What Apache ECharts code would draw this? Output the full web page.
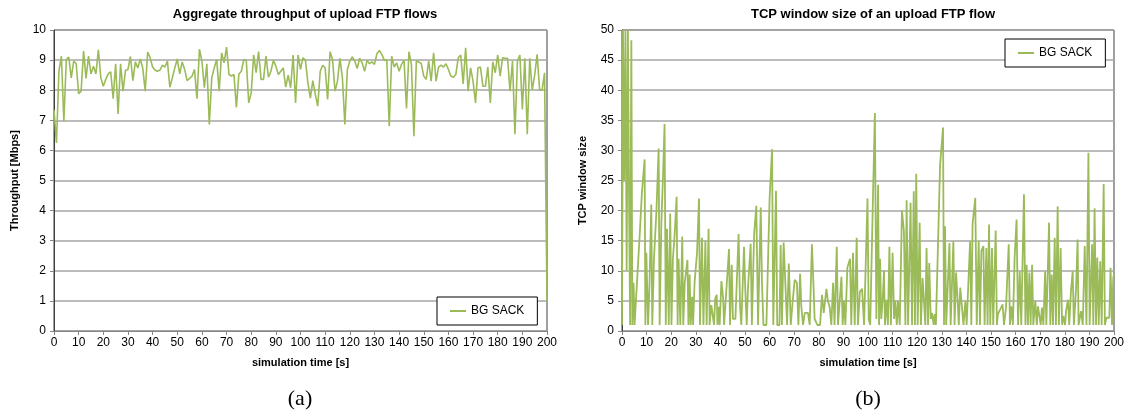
<!DOCTYPE html>
<html>
<head>
<meta charset="utf-8">
<script src="https://cdn.jsdelivr.net/npm/echarts@6/dist/echarts.min.js"></script>
<style>
  html, body { margin: 0; padding: 0; background: #fff; }
  #chart { width: 1133px; height: 415px; }
</style>
</head>
<body>
<div id="chart"></div>
<script>
// (a) aggregate throughput, one sample per second, t = 0..200
const throughput = [
  7.35, 6.25, 8.63, 9.13, 6.97, 9.02, 9.1, 8.41, 8.97, 8.88,
  7.88, 7.97, 9.3, 8.39, 9.13, 8.54, 8.8, 8.54, 9.34, 8.41,
  8.13, 8.36, 8.54, 8.61, 7.72, 8.88, 7.21, 8.88, 7.97, 8.66,
  8.69, 9.12, 8.32, 8.94, 8.74, 9.04, 8.74, 7.97, 9.27, 9.08,
  8.77, 8.66, 8.63, 8.67, 8.83, 8.77, 8.97, 8.1, 8.41, 8.74,
  9.04, 8.54, 8.94, 8.69, 8.32, 8.39, 8.47, 8.69, 7.72, 9.36,
  8.97, 8.08, 8.88, 6.86, 8.41, 8.74, 9.02, 7.97, 9.24, 8.91,
  9.43, 8.52, 8.47, 8.52, 7.43, 8.54, 8.63, 9.02, 8.99, 7.58,
  7.91, 9.17, 8.58, 9.28, 8.36, 8.36, 9.13, 8.43, 8.63, 8.99,
  8.8, 8.52, 8.63, 8.74, 8.1, 8.5, 8.08, 9.17, 7.58, 9.17,
  8.69, 9.08, 8.99, 8.24, 7.74, 8.32, 7.86, 7.47, 8.63, 8.83,
  8.74, 7.69, 9.28, 9.02, 7.97, 8.3, 9.06, 8.41, 6.86, 8.69,
  8.97, 9.11, 8.97, 8.72, 9.06, 8.91, 8.63, 8.99, 8.88, 8.94,
  8.86, 9.21, 9.32, 9.19, 8.99, 9.02, 6.8, 9.13, 8.77, 8.91,
  8.63, 8.86, 8.99, 7.39, 9.28, 8.86, 6.47, 8.97, 8.94, 8.88,
  8.47, 8.36, 8.97, 8.3, 9.24, 8.3, 8.77, 8.83, 8.77, 8.88,
  8.69, 8.47, 8.43, 8.52, 9.08, 9.17, 8.21, 9.41, 7.97, 8.74,
  8.3, 7.58, 8.74, 8.77, 8.13, 8.13, 8.77, 7.58, 8.94, 8.58,
  9.17, 8.47, 9.08, 9.06, 9.06, 7.97, 8.97, 6.54, 8.97, 9.17,
  7.36, 9.06, 6.54, 9.06, 8.0, 8.5, 9.19, 8.02, 8.0, 8.58,
  1.0
];

// (b) TCP window size samples: time [s] and window size
const windowTime = [
  0, 0.4, 0.9, 1.4, 1.9, 2.4, 2.9, 3.3, 3.8, 4.2, 4.7, 5.1, 5.8, 7.2, 8.1, 9.2, 9.5, 9.9,
  10.6, 11.2, 11.9, 12.3, 13, 14, 14.9, 15.3, 16, 16.7, 17.3, 17.8, 18.3, 19, 19.6,
  20.1, 20.7, 21.4, 22.2, 22.6, 23, 23.7, 24.5, 24.9, 25.5, 26.6, 27, 27.5, 27.9, 28.5, 28.9, 29.5,
  30.5, 31.3, 31.7, 32.5, 33.1, 33.9, 34.4, 35.2, 35.6, 36.3, 37, 37.4, 37.9, 38.5, 38.8, 39.3, 39.7,
  40.4, 41.1, 41.5, 42.3, 43.5, 43.9, 44.6, 45.1, 46.1, 47.4, 48, 48.5, 49.6,
  50.1, 50.7, 51.2, 52.3, 52.8, 53.7, 54.6, 55.3, 56.4, 56.9, 57.5, 58.7,
  60, 61, 61.5, 62.6, 63.1, 64, 64.5, 65, 65.7, 66.5, 67.1, 67.8, 68.6, 69.4,
  70.2, 71.1, 71.7, 72.4, 72.9, 73.6, 74.3, 75.6, 76.3, 77.2, 77.9, 78.3, 79.4,
  80.5, 81.3, 82, 83.1, 83.7, 84.4, 85.1, 85.8, 86.4, 87.3, 87.8, 88.5, 89.2, 89.7,
  90.2, 90.8, 91.6, 92.7, 93.2, 93.9, 94.6, 95.4, 95.9, 96.7, 97.6, 98.4, 99.8,
  100.3, 100.9, 101.9, 102.8, 103.4, 104.1, 104.5, 104.9, 105.4, 106, 106.5, 106.9, 107.6, 108.1, 108.7, 109.3,
  110, 110.6, 111.1, 111.7, 112.2, 112.9, 113.8, 114.6, 115.2, 115.7, 116.3, 117.3, 117.9, 118.6, 119.1, 119.6,
  120.2, 121, 121.5, 122.2, 122.8, 123.3, 123.8, 124.4, 124.9, 125.5, 126, 126.7, 127.1, 127.6, 129.3,
  130.5, 130.9, 131.3, 131.8, 133.1, 133.6, 134.7, 135.2, 135.8, 136.3, 136.9, 137.5, 138.2, 138.8, 139.6,
  140.1, 141.5, 142, 142.5, 143.6, 144.2, 145, 145.5, 146.1, 146.9, 147.4, 148.1, 148.6, 149.2, 149.7,
  150.4, 150.9, 151.9, 152.4, 152.8, 153.4, 154.1, 154.7, 155.3, 156.1, 157.2, 157.7, 158.3, 158.9, 159.6,
  160.4, 161, 161.7, 162.3, 163.4, 164, 164.5, 165, 165.6, 166.1, 166.7, 167.2, 168, 168.6, 169.1, 169.6,
  170.2, 170.7, 171.3, 172, 172.5, 173.6, 174.1, 174.7, 175.2, 175.9, 176.4, 177.1, 177.6, 178.3, 178.9, 179.4,
  180.1, 180.5, 181.3, 181.8, 182.5, 183.2, 183.7, 184.6, 185.2, 185.6, 186.6, 187.3, 188.1, 188.8, 189.6,
  190.1, 191.1, 191.6, 192.1, 192.7, 193.2, 193.8, 194.4, 195, 195.8, 196.3, 196.9, 197.6, 198.1, 198.6, 199.2, 199.7, 200
];
const windowSize = [
  1, 50, 25, 50, 10, 50, 20, 1, 48.3, 1, 8, 1, 1, 16, 23, 28.5, 1, 13,
  1, 8, 21, 1, 12, 20, 30.3, 1, 18, 26, 34.4, 1, 17, 1, 19.5,
  1, 12, 16, 22.3, 1, 12, 1, 15.7, 1, 8, 11.8, 1, 9.4, 1, 5.7, 1, 8,
  13, 22, 1, 15.5, 1, 15, 1, 17, 1, 4.3, 4.5, 1, 5.4, 6, 1, 4, 1,
  8.3, 5.5, 1, 1, 13.6, 1, 11, 2, 2, 16.1, 4, 1, 14,
  7, 1, 7, 14.5, 1, 16, 20.8, 1, 20.5, 8, 1, 1,
  22, 30.2, 1, 23.3, 1, 1, 14.3, 1, 14.7, 7, 1, 11.2, 1, 5,
  8.5, 8, 1, 9.5, 4, 1, 3, 3, 1, 14.4, 7, 2, 1,
  1, 6, 3, 7, 5, 4, 1, 8, 1, 14, 1, 5, 9, 1,
  5, 1, 10.5, 12, 1, 13, 1, 15.5, 1, 6.5, 7, 1, 22,
  2, 1, 20, 36.2, 2, 24.3, 1, 12, 2, 5.5, 10, 1, 5.2, 1, 14, 1,
  13, 2, 5, 1, 5, 1, 20, 16.6, 1, 21.7, 1, 21.3, 1, 23.2, 1, 26.1,
  1, 18, 1, 8.8, 9.1, 1, 13.8, 1, 11.3, 2, 3, 1, 2.8, 1, 27.6,
  33.8, 1, 17.4, 1, 14.6, 1, 14.9, 1, 9.7, 6.1, 1, 7.2, 3.9, 1, 5,
  1, 14.9, 1, 17.7, 22.1, 1, 14.9, 1, 13.3, 14.1, 1, 13.8, 1, 17.7, 1,
  13.8, 1, 16.7, 1, 2.8, 3.3, 3.9, 4.4, 1, 3.9, 14.4, 1, 4.1, 1, 12.2,
  18.5, 1, 9.9, 1, 22.7, 1, 11, 1, 9.7, 1, 11, 1, 5, 1, 4.1, 4.1,
  1, 3.9, 1, 9.9, 1, 18, 1, 9.4, 1, 15.5, 1, 20.7, 1, 13.8, 1, 2.5,
  1, 3.3, 5.2, 1, 6.6, 9.9, 1, 7.2, 15.2, 1, 3.3, 1, 14.1, 1, 29.6,
  1, 14.4, 1, 20.4, 1, 12.2, 1, 11.6, 1, 24.4, 1, 2.2, 2, 2.2, 10.5, 1, 8.8, 9.4
];

const xTicks = { min: 0, max: 200, interval: 10 };
const lineColor = "#9bbb59";
const font = "Liberation Sans, Arial, sans-serif";

function makeXAxis(gridIndex) {
  return {
    gridIndex: gridIndex,
    type: "value",
    min: xTicks.min,
    max: xTicks.max,
    interval: xTicks.interval,
    name: "simulation time [s]",
    nameLocation: "middle",
    nameGap: 26,
    nameTextStyle: { fontFamily: font, fontSize: 11, fontWeight: "bold", color: "#000" },
    axisLine: { show: true, lineStyle: { color: "#868686", width: 1 } },
    axisTick: { show: true, length: 4, lineStyle: { color: "#868686" } },
    axisLabel: { fontFamily: font, fontSize: 12, color: "#000", margin: 6 },
    splitLine: { show: false }
  };
}

function makeYAxis(gridIndex, name, max, interval) {
  return {
    gridIndex: gridIndex,
    type: "value",
    min: 0,
    max: max,
    interval: interval,
    name: name,
    nameLocation: "middle",
    nameGap: 34,
    nameTextStyle: { fontFamily: font, fontSize: 11, fontWeight: "bold", color: "#000" },
    axisLine: { show: true, lineStyle: { color: "#404040", width: 1 } },
    axisTick: { show: true, length: 4, lineStyle: { color: "#868686" } },
    axisLabel: { fontFamily: font, fontSize: 12, color: "#000", margin: 8 },
    splitLine: { show: true, lineStyle: { color: "#a6a6a6", width: 1.5 } }
  };
}

function makeLegend(left, top) {
  return {
    left: left,
    top: top,
    data: ["BG SACK"],
    icon: "rect",
    itemWidth: 16,
    itemHeight: 2,
    padding: [8, 13, 8, 13],
    borderColor: "#000",
    borderWidth: 1,
    backgroundColor: "#fff",
    selectedMode: false,
    textStyle: { fontFamily: font, fontSize: 12, color: "#000" }
  };
}

function makeCaption(text, x) {
  return {
    type: "text",
    x: x,
    y: 388,
    style: {
      text: text,
      font: "22px Liberation Serif, Times New Roman, serif",
      fill: "#000",
      align: "center",
      textAlign: "center"
    }
  };
}

const chart = echarts.init(document.getElementById("chart"));
const option = {
  animation: false,
  backgroundColor: "#fff",
  title: [
    {
      text: "Aggregate throughput of upload FTP flows",
      left: 300,
      top: 3,
      textAlign: "center",
      textStyle: { fontFamily: font, fontSize: 13, fontWeight: "bold", color: "#000" }
    },
    {
      text: "TCP window size of an upload FTP flow",
      left: 868,
      top: 3,
      textAlign: "center",
      textStyle: { fontFamily: font, fontSize: 13, fontWeight: "bold", color: "#000" }
    }
  ],
  legend: [makeLegend(437, 297), makeLegend(1005, 39)],
  grid: [
    { left: 54, right: 586, top: 30, bottom: 84, show: true, borderColor: "#404040", borderWidth: 1 },
    { left: 622, right: 19, top: 30, bottom: 84, show: true, borderColor: "#404040", borderWidth: 1 }
  ],
  xAxis: [makeXAxis(0), makeXAxis(1)],
  yAxis: [
    makeYAxis(0, "Throughput [Mbps]", 10, 1),
    makeYAxis(1, "TCP window size", 50, 5)
  ],
  graphic: [makeCaption("(a)", 300), makeCaption("(b)", 868)],
  series: [
    {
      name: "BG SACK",
      type: "line",
      xAxisIndex: 0,
      yAxisIndex: 0,
      showSymbol: false,
      clip: true,
      itemStyle: { color: lineColor },
      lineStyle: { color: lineColor, width: 1.6 },
      data: throughput.map((v, i) => [i, v])
    },
    {
      name: "BG SACK",
      type: "line",
      xAxisIndex: 1,
      yAxisIndex: 1,
      showSymbol: false,
      clip: true,
      itemStyle: { color: lineColor },
      lineStyle: { color: lineColor, width: 1.8 },
      data: windowTime.map((t, i) => [t, windowSize[i]])
    }
  ]
};
chart.setOption(option);
window.addEventListener("resize", () => chart.resize(), false);
</script>
</body>
</html>
